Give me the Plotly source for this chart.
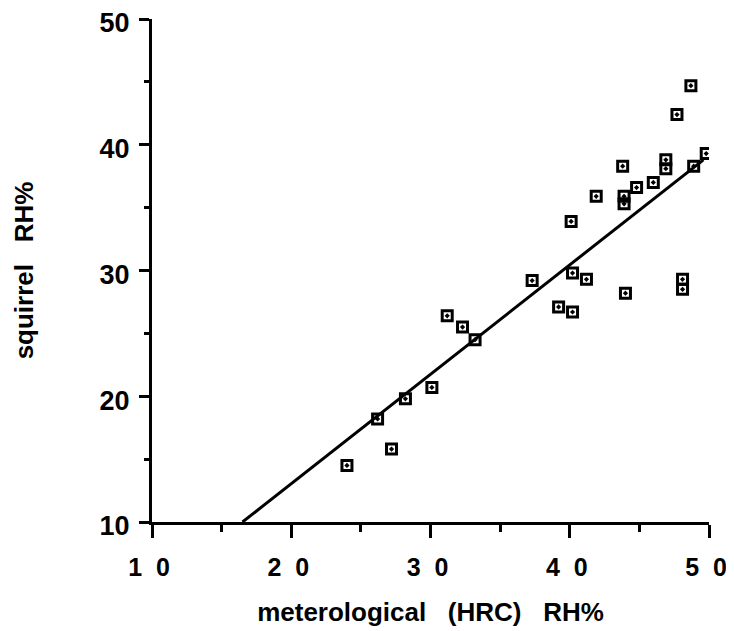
import plotly.graph_objects as go

# Data
met_rh = [24.0, 26.2, 27.2, 28.2, 30.1, 31.2, 32.3, 33.2, 37.3, 39.2, 40.2, 40.1,
          40.2, 41.2, 41.9, 43.9, 43.9, 43.8, 44.0, 44.8, 46.0, 46.9, 46.9, 47.7,
          48.1, 48.1, 48.7, 48.9, 49.8]
squirrel_rh = [14.5, 18.2, 15.8, 19.8, 20.7, 26.4, 25.5, 24.5, 29.2, 27.1, 26.7, 33.9,
               29.8, 29.3, 35.9, 35.9, 35.3, 38.3, 28.2, 36.6, 37.0, 38.8, 38.1, 42.4,
               29.3, 28.5, 44.7, 38.3, 39.3]
fit_x = [16.5, 49.6]
fit_y = [10.0, 38.8]

x_ticks = [10, 20, 30, 40, 50]
x_ticktext = ["1\u00a0\u00a00", "2\u00a0\u00a00", "3\u00a0\u00a00", "4\u00a0\u00a00", "5\u00a0\u00a00"]
y_ticks = [10, 20, 30, 40, 50]
y_ticktext = ["10", "20", "30", "40", "50"]

FONT = "Liberation Sans, Arial, Helvetica, sans-serif"

fig = go.Figure()
fig.add_trace(go.Scatter(
    x=fit_x, y=fit_y, mode="lines",
    line=dict(color="black", width=3),
    hoverinfo="skip", showlegend=False,
))
fig.add_trace(go.Scatter(
    x=met_rh, y=squirrel_rh, mode="markers",
    marker=dict(symbol="square-open-dot", size=10, color="black",
                line=dict(color="black", width=3)),
    showlegend=False,
))

# page body has an 8px default margin, so the figure is sized to fit
fig.update_layout(
    width=726, height=623,
    margin=dict(l=144, r=25, t=11, b=109),
    paper_bgcolor="white", plot_bgcolor="white",
    font=dict(family=FONT, color="black"),
    xaxis=dict(
        range=[10, 50], showgrid=False, zeroline=False, automargin=False,
        showline=True, linecolor="black", linewidth=3,
        ticks="outside", ticklen=13, tickwidth=3, tickcolor="black",
        tickvals=x_ticks, ticktext=x_ticktext,
        tickfont=dict(size=25, family=FONT, weight="bold"),
        ticklabelshift=-3, ticklabelstandoff=8, ticklabeloverflow="allow",
        minor=dict(dtick=5, ticks="outside", ticklen=7, tickwidth=2.5, tickcolor="black", showgrid=False),
        title=dict(text="meterological\u00a0\u00a0\u00a0(HRC)\u00a0\u00a0\u00a0RH%",
                   font=dict(size=26, family=FONT, weight="bold"), standoff=23),
    ),
    yaxis=dict(
        range=[10, 50], showgrid=False, zeroline=False, automargin=False,
        showline=True, linecolor="black", linewidth=3,
        ticks="outside", ticklen=10, tickwidth=3, tickcolor="black",
        tickvals=y_ticks, ticktext=y_ticktext,
        tickfont=dict(size=27, family=FONT, weight="bold"),
        ticklabelstandoff=4, ticklabelshift=4, ticklabeloverflow="allow",
        minor=dict(dtick=5, ticks="outside", ticklen=5, tickwidth=2.5, tickcolor="black", showgrid=False),
        title=dict(text="squirrel\u00a0\u00a0\u00a0RH%",
                   font=dict(size=26, family=FONT, weight="bold"), standoff=59),
    ),
)

fig.write_html("out.html")
